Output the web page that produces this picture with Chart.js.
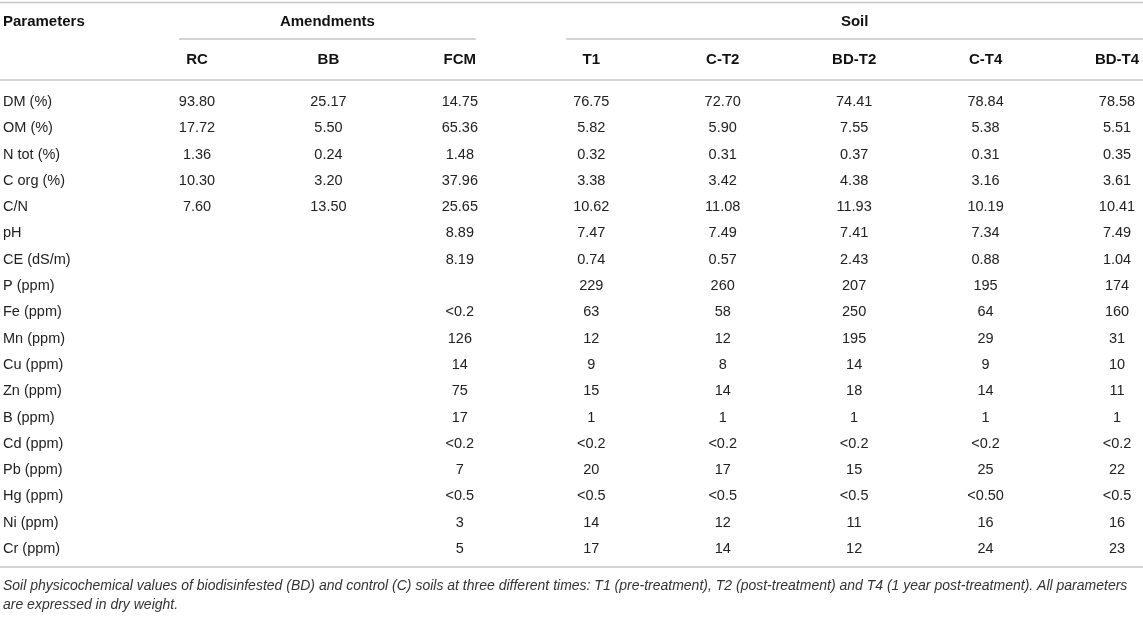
<!DOCTYPE html>
<html>
<head>
<meta charset="utf-8">
<script src="https://cdn.jsdelivr.net/npm/chart.js@4.4.1/dist/chart.umd.min.js"></script>
<style>
  html, body { margin: 0; padding: 0; background: #ffffff; }
  #wrap { width: 1143px; height: 620px; position: relative; }
</style>
</head>
<body>
<div id="wrap"><canvas id="c" width="1143" height="620"></canvas></div>
<script>
// ---------- DATA ----------
const parameters = ['DM (%)', 'OM (%)', 'N tot (%)', 'C org (%)', 'C/N', 'pH', 'CE (dS/m)', 'P (ppm)',
  'Fe (ppm)', 'Mn (ppm)', 'Cu (ppm)', 'Zn (ppm)', 'B (ppm)', 'Cd (ppm)', 'Pb (ppm)', 'Hg (ppm)', 'Ni (ppm)', 'Cr (ppm)'];
const columns = ['RC', 'BB', 'FCM', 'T1', 'C-T2', 'BD-T2', 'C-T4', 'BD-T4'];
const groupLabels = ['Amendments', 'Soil'];
const groupFirst = ['RC', 'T1'];
const groupLast = ['FCM', 'BD-T4'];
const cornerLabel = 'Parameters';

const RC   = ['93.80', '17.72', '1.36', '10.30', '7.60', '', '', '', '', '', '', '', '', '', '', '', '', ''];
const BB   = ['25.17', '5.50', '0.24', '3.20', '13.50', '', '', '', '', '', '', '', '', '', '', '', '', ''];
const FCM  = ['14.75', '65.36', '1.48', '37.96', '25.65', '8.89', '8.19', '', '<0.2', '126', '14', '75', '17', '<0.2', '7', '<0.5', '3', '5'];
const T1   = ['76.75', '5.82', '0.32', '3.38', '10.62', '7.47', '0.74', '229', '63', '12', '9', '15', '1', '<0.2', '20', '<0.5', '14', '17'];
const CT2  = ['72.70', '5.90', '0.31', '3.42', '11.08', '7.49', '0.57', '260', '58', '12', '8', '14', '1', '<0.2', '17', '<0.5', '12', '14'];
const BDT2 = ['74.41', '7.55', '0.37', '4.38', '11.93', '7.41', '2.43', '207', '250', '195', '14', '18', '1', '<0.2', '15', '<0.5', '11', '12'];
const CT4  = ['78.84', '5.38', '0.31', '3.16', '10.19', '7.34', '0.88', '195', '64', '29', '9', '14', '1', '<0.2', '25', '<0.50', '16', '24'];
const BDT4 = ['78.58', '5.51', '0.35', '3.61', '10.41', '7.49', '1.04', '174', '160', '31', '10', '11', '1', '<0.2', '22', '<0.5', '16', '23'];
const seriesValues = [RC, BB, FCM, T1, CT2, BDT2, CT4, BDT4];

const captionLines = [
  'Soil physicochemical values of biodisinfested (BD) and control (C) soils at three different times: T1 (pre-treatment), T2 (post-treatment) and T4 (1 year post-treatment). All parameters',
  'are expressed in dry weight.'
];

// ---------- STYLE ----------
const FONT = '"Liberation Sans", Arial, Helvetica, sans-serif';
const TEXT = '#222222';
const RULE = '#c6c6c6';
const LEFT_X = 3;

const datasets = columns.map((col, ci) => ({
  label: col,
  data: parameters
    .map((p, ri) => ({ x: col, y: p, v: seriesValues[ci][ri] }))
    .filter(d => d.v !== ''),
  pointRadius: 0,
  pointHoverRadius: 0
}));

const tablePlugin = {
  id: 'tablePlugin',
  afterDraw(chart) {
    const ctx = chart.ctx;
    const xs = chart.scales.x, ys = chart.scales.y;
    const area = chart.chartArea;
    const W = chart.width;
    ctx.save();

    // rules
    ctx.strokeStyle = RULE;
    ctx.lineWidth = 1.6;
    const hline = (x1, x2, y) => { ctx.beginPath(); ctx.moveTo(x1, y); ctx.lineTo(x2, y); ctx.stroke(); };
    hline(0, W, area.top - 99.5);
    hline(0, W, area.top - 22);
    hline(0, W, area.bottom + 18);
    const spans = groupLabels.map((g, gi) => {
      const x1 = xs.getPixelForValue(groupFirst[gi]) - (gi === 0 ? 18 : 25);
      const x2 = gi === 0 ? xs.getPixelForValue(groupLast[gi]) + 16 : W;
      hline(x1, x2, area.top - 63);
      return [x1, x2];
    });

    // corner label + group headers
    ctx.fillStyle = '#111';
    ctx.font = 'bold 15px ' + FONT;
    ctx.textBaseline = 'middle';
    ctx.textAlign = 'left';
    ctx.fillText(cornerLabel, LEFT_X, area.top - 80);
    ctx.textAlign = 'center';
    groupLabels.forEach((g, gi) => {
      ctx.fillText(g, (spans[gi][0] + spans[gi][1]) / 2, area.top - 80);
    });

    // column headers
    columns.forEach(c => {
      ctx.fillText(c, xs.getPixelForValue(c), area.top - 42);
    });

    // row labels
    ctx.font = '14.5px ' + FONT;
    ctx.fillStyle = TEXT;
    ctx.textAlign = 'left';
    parameters.forEach(p => {
      ctx.fillText(p, LEFT_X, ys.getPixelForValue(p));
    });

    // cell values
    ctx.textAlign = 'center';
    chart.data.datasets.forEach((ds, di) => {
      const meta = chart.getDatasetMeta(di);
      meta.data.forEach((pt, i) => {
        ctx.fillText(ds.data[i].v, pt.x, pt.y);
      });
    });

    // caption
    ctx.font = 'italic 14px ' + FONT;
    ctx.fillStyle = '#333';
    ctx.textAlign = 'left';
    captionLines.forEach((l, i) => {
      ctx.fillText(l, LEFT_X, area.bottom + 37 + i * 19);
    });
    ctx.restore();
  }
};

new Chart(document.getElementById('c'), {
  type: 'scatter',
  data: { datasets },
  options: {
    responsive: false,
    animation: false,
    devicePixelRatio: 1,
    layout: { padding: { left: 197, right: 26, top: 102, bottom: 71 } },
    scales: {
      x: { type: 'category', labels: columns, offset: false, display: false },
      y: { type: 'category', labels: parameters, offset: false, display: false }
    },
    plugins: { legend: { display: false }, tooltip: { enabled: false } },
    events: []
  },
  plugins: [tablePlugin]
});
</script>
</body>
</html>
